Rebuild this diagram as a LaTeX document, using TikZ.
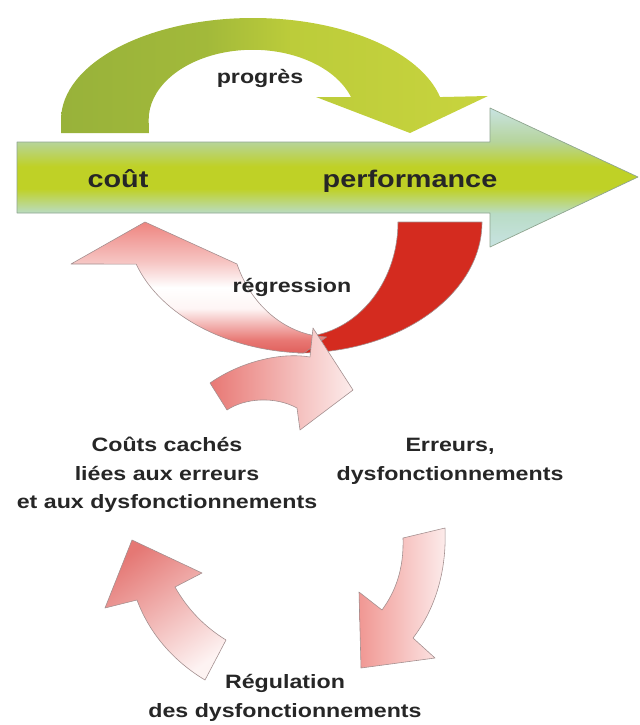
\documentclass[tikz,border=0pt]{standalone}
\usepackage{fontspec}
\newfontfamily\pcfont[FakeStretch=1.2]{Liberation Sans}
\usepackage{xcolor}
\usepackage{tikz}
\definecolor{pcInk}{HTML}{262626}
\definecolor{pcRed}{HTML}{D42B1F}
\definecolor{pcEdge}{HTML}{A38F8F}
\definecolor{pcBarEdge}{HTML}{8FA58F}
\definecolor{pcSky}{HTML}{C8E3E2}
\definecolor{pcMint}{HTML}{B9DCC6}
\definecolor{pcLime}{HTML}{BFD126}
\definecolor{pcSage}{HTML}{B6D49C}
\definecolor{pcOlive}{HTML}{98B23A}
\definecolor{pcMoss}{HTML}{A2B93A}
\definecolor{pcLeaf}{HTML}{BCCC3A}
\definecolor{pcPale}{HTML}{C8D43E}
\definecolor{pcRose}{HTML}{EE8580}
\definecolor{pcBlush}{HTML}{F6C4C2}
\definecolor{pcCoral}{HTML}{E0605C}
\definecolor{pcPeach}{HTML}{E87874}
\pgfdeclareverticalshading{pcbar}{100bp}{color(0bp)=(pcSky); color(25bp)=(pcSky);
  color(37bp)=(pcMint); color(46bp)=(pcLime); color(54bp)=(pcLime);
  color(63bp)=(pcSage); color(75bp)=(pcSky); color(100bp)=(pcSky)}
\pgfdeclarehorizontalshading{pcswing}{100bp}{color(0bp)=(pcOlive); color(25bp)=(pcOlive);
  color(42bp)=(pcMoss); color(52bp)=(pcLeaf); color(75bp)=(pcPale); color(100bp)=(pcPale)}
\pgfdeclareverticalshading{pcback}{100bp}{color(0bp)=(pcCoral); color(25bp)=(pcCoral);
  color(30bp)=(pcPeach); color(42bp)=(white!92!pcRose); color(50bp)=(white);
  color(60bp)=(pcBlush); color(75bp)=(pcRose); color(100bp)=(pcRose)}
\tikzset{
  pc diagram/.style={x=0.03cm, y=0.03cm, line join=round},
  pc label/.style={font=\pcfont\bfseries\fontsize{16.5}{24.5}\selectfont,
    text=pcInk, align=center, inner sep=0pt},
  pc big label/.style={pc label, font=\pcfont\bfseries\fontsize{20.5}{24}\selectfont},
  pc bar/.style={shade, shading=pcbar, draw=pcBarEdge, line width=0.6pt},
  pc swing/.style={shade, shading=pcswing},
  pc fall/.style={fill=pcRed, draw=pcEdge, line width=0.5pt},
  pc back/.style={shade, shading=pcback, draw=pcEdge, line width=0.5pt},
  pc loop/.style={draw=pcEdge, line width=0.5pt}
}

\begin{document}
\begin{tikzpicture}[pc diagram]
\useasboundingbox (0,0) rectangle (639,-725);
\path[pc bar] (17,-142) -- (490,-142) -- (490,-108) -- (638,-177)
  -- (490,-247) -- (490,-213) -- (17,-213) -- cycle;
\path[pc swing] (61,-133) -- (61,-120)
  arc[start angle=180, end angle=13, x radius=192, y radius=102]
  -- (488,-96) -- (410,-133) -- (316,-97) -- (351,-97)
  arc[start angle=19, end angle=180, x radius=104, y radius=70] -- (149,-133) -- cycle;
\path[pc fall] (482,-222) arc[start angle=0, end angle=-90, x radius=184, y radius=131]
  -- (298,-337) arc[start angle=-90, end angle=0, x radius=100, y radius=115] -- cycle;
\path[pc back] (304,-353) arc[start angle=268, end angle=198.7, x radius=184, y radius=131]
  -- (71,-264) -- (145,-222) -- (237,-264)
  arc[start angle=201.4, end angle=268, x radius=100, y radius=115] -- cycle;
\path[pc loop, left color=pcPeach, right color=white!85!pcRose]
  (210,-383) .. controls (240,-362) and (280,-352) .. (310,-357) -- (313,-328)
  -- (353,-390) -- (300,-430) -- (297,-408)
  .. controls (275,-396) and (245,-398) .. (227,-410) -- cycle;
\path[pc loop, left color=pcRose!85!white, right color=white!85!pcRose]
  (403,-538) -- (445,-528) .. controls (447,-575) and (433,-612) .. (413,-638)
  -- (435,-658) -- (361,-668) -- (359,-592)
  -- (382,-610) .. controls (395,-592) and (404,-570) .. (403,-538) -- cycle;
\path[pc loop, top color=pcCoral!85!white, bottom color=white!90!pcRose, shading angle=35]
  (205,-680) -- (226,-640) .. controls (205,-627) and (188,-610) .. (175,-587)
  -- (202,-573) -- (132,-540) -- (105,-608)
  -- (137,-600) .. controls (150,-635) and (175,-662) .. (205,-680) -- cycle;
\node[pc label, anchor=base] (progres) at (260,-83) {progrès};
\node[pc big label, anchor=base] (cout) at (118,-187) {coût};
\node[pc big label, anchor=base] (performance) at (410,-187) {performance};
\node[pc label, anchor=base] (regression) at (292,-292) {régression};
\node[pc label] (caches) at (167,-475) {Coûts cachés\\liées aux erreurs\\et aux dysfonctionnements};
\node[pc label] (erreurs) at (450,-461) {Erreurs,\\dysfonctionnements};
\node[pc label] (regulation) at (285,-698) {Régulation\\des dysfonctionnements};
\end{tikzpicture}
\end{document}
